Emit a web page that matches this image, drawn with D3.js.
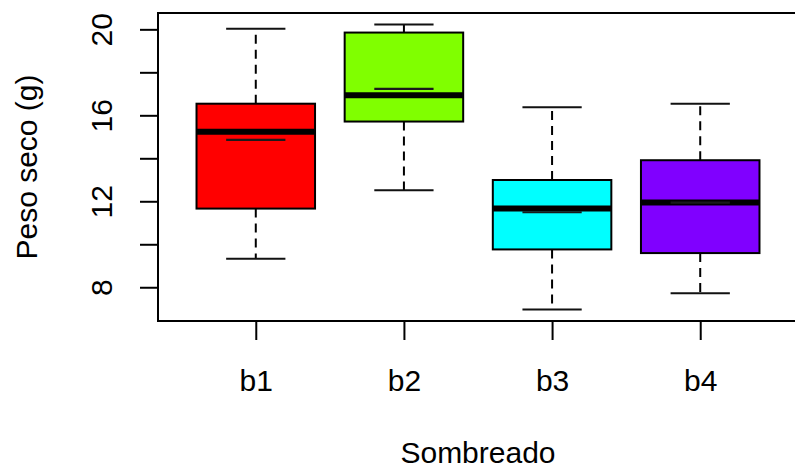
<!DOCTYPE html>
<html>
<head>
<meta charset="utf-8">
<script src="https://cdn.jsdelivr.net/npm/d3@7"></script>
<style>
  html, body { margin: 0; padding: 0; background: #fff; }
  svg { display: block; }
  text { font-family: "Liberation Sans", Arial, sans-serif; fill: #000; }
</style>
</head>
<body>
<svg id="chart" width="795" height="470"></svg>
<script>
// ---- data ----
const categories = ["b1", "b2", "b3", "b4"];
const colors     = ["#ff0000", "#80ff00", "#00ffff", "#8000ff"];
const whiskerLow = [9.33, 12.51, 6.96, 7.72];
const q1         = [11.66, 15.71, 9.76, 9.59];
const median     = [15.23, 16.93, 11.66, 11.94];
const q3         = [16.54, 19.85, 12.99, 13.91];
const whiskerHigh= [20.03, 20.23, 16.37, 16.54];
const means      = [14.86, 17.23, 11.49, 11.94];
const yTicks      = [8, 10, 12, 14, 16, 18, 20];
const yTickLabels = [8, 12, 16, 20];
const xTitle = "Sombreado";
const yTitle = "Peso seco (g)";

const svg = d3.select("#chart");
const plot = { left: 158, top: 13, right: 798, bottom: 321 };

const x = d3.scaleLinear().domain([0.34, 4.66]).range([plot.left, plot.right]);
const y = d3.scaleLinear().domain([6.43, 20.76]).range([plot.bottom, plot.top]);

const boxHalf = (x(1.4) - x(1));      // half width of box (0.4 units)
const capHalf = boxHalf / 2;

const data = categories.map((c, i) => ({
  c, i, pos: i + 1, color: colors[i],
  lo: whiskerLow[i], q1: q1[i], med: median[i], q3: q3[i], hi: whiskerHigh[i], mean: means[i]
}));

const g = svg.append("g");

// whiskers (dashed)
g.selectAll(".wh-up").data(data).enter().append("line")
  .attr("x1", d => x(d.pos)).attr("x2", d => x(d.pos))
  .attr("y1", d => y(d.q3)).attr("y2", d => y(d.hi))
  .attr("stroke", "#000").attr("stroke-width", 2).attr("stroke-dasharray", "9,6");
g.selectAll(".wh-lo").data(data).enter().append("line")
  .attr("x1", d => x(d.pos)).attr("x2", d => x(d.pos))
  .attr("y1", d => y(d.q1)).attr("y2", d => y(d.lo))
  .attr("stroke", "#000").attr("stroke-width", 2).attr("stroke-dasharray", "9,6");

// caps
["hi", "lo"].forEach(k => {
  g.selectAll(".cap-" + k).data(data).enter().append("line")
    .attr("x1", d => x(d.pos) - capHalf).attr("x2", d => x(d.pos) + capHalf)
    .attr("y1", d => y(d[k])).attr("y2", d => y(d[k]))
    .attr("stroke", "#111").attr("stroke-width", 2);
});

// boxes
g.selectAll(".box").data(data).enter().append("rect")
  .attr("x", d => x(d.pos) - boxHalf)
  .attr("width", boxHalf * 2)
  .attr("y", d => y(d.q3))
  .attr("height", d => y(d.q1) - y(d.q3))
  .attr("fill", d => d.color)
  .attr("stroke", "#000").attr("stroke-width", 2);

// medians
g.selectAll(".med").data(data).enter().append("line")
  .attr("x1", d => x(d.pos) - boxHalf).attr("x2", d => x(d.pos) + boxHalf)
  .attr("y1", d => y(d.med)).attr("y2", d => y(d.med))
  .attr("stroke", "#000").attr("stroke-width", 6);

// means
g.selectAll(".mean").data(data).enter().append("line")
  .attr("x1", d => x(d.pos) - capHalf).attr("x2", d => x(d.pos) + capHalf)
  .attr("y1", d => y(d.mean)).attr("y2", d => y(d.mean))
  .attr("stroke", "#1a1a1a").attr("stroke-width", 2.2);

// plot frame
svg.append("rect")
  .attr("x", plot.left).attr("y", plot.top)
  .attr("width", plot.right - plot.left).attr("height", plot.bottom - plot.top)
  .attr("fill", "none").attr("stroke", "#000").attr("stroke-width", 2);

// y axis
const yAxis = d3.axisLeft(y).tickValues(yTicks).tickSize(18).tickPadding(0)
  .tickFormat(d => yTickLabels.includes(d) ? d : "");
const ya = svg.append("g").attr("transform", `translate(${plot.left},0)`).call(yAxis);
ya.select(".domain").remove();
ya.selectAll(".tick line").attr("stroke", "#000").attr("stroke-width", 2);
ya.selectAll(".tick text")
  .attr("x", null).attr("dy", null)
  .attr("transform", "translate(-46,0) rotate(-90)")
  .attr("text-anchor", "middle")
  .attr("y", 0)
  .style("font-size", "30px").style("font-family", "Liberation Sans, Arial, sans-serif");

// x axis
const xAxis = d3.axisBottom(x).tickValues([1, 2, 3, 4]).tickSize(19).tickPadding(0)
  .tickFormat((d) => categories[d - 1]);
const xa = svg.append("g").attr("transform", `translate(0,${plot.bottom})`).call(xAxis);
xa.select(".domain").remove();
xa.selectAll(".tick line").attr("stroke", "#000").attr("stroke-width", 2);
xa.selectAll(".tick text")
  .attr("y", 70).attr("dy", null)
  .style("font-size", "30px").style("font-family", "Liberation Sans, Arial, sans-serif");

// titles
svg.append("text")
  .attr("x", (plot.left + plot.right) / 2).attr("y", 463)
  .attr("text-anchor", "middle").style("font-size", "30px")
  .text(xTitle);
svg.append("text")
  .attr("transform", `translate(37,${(plot.top + plot.bottom) / 2}) rotate(-90)`)
  .attr("text-anchor", "middle").style("font-size", "30px")
  .text(yTitle);
</script>
</body>
</html>
